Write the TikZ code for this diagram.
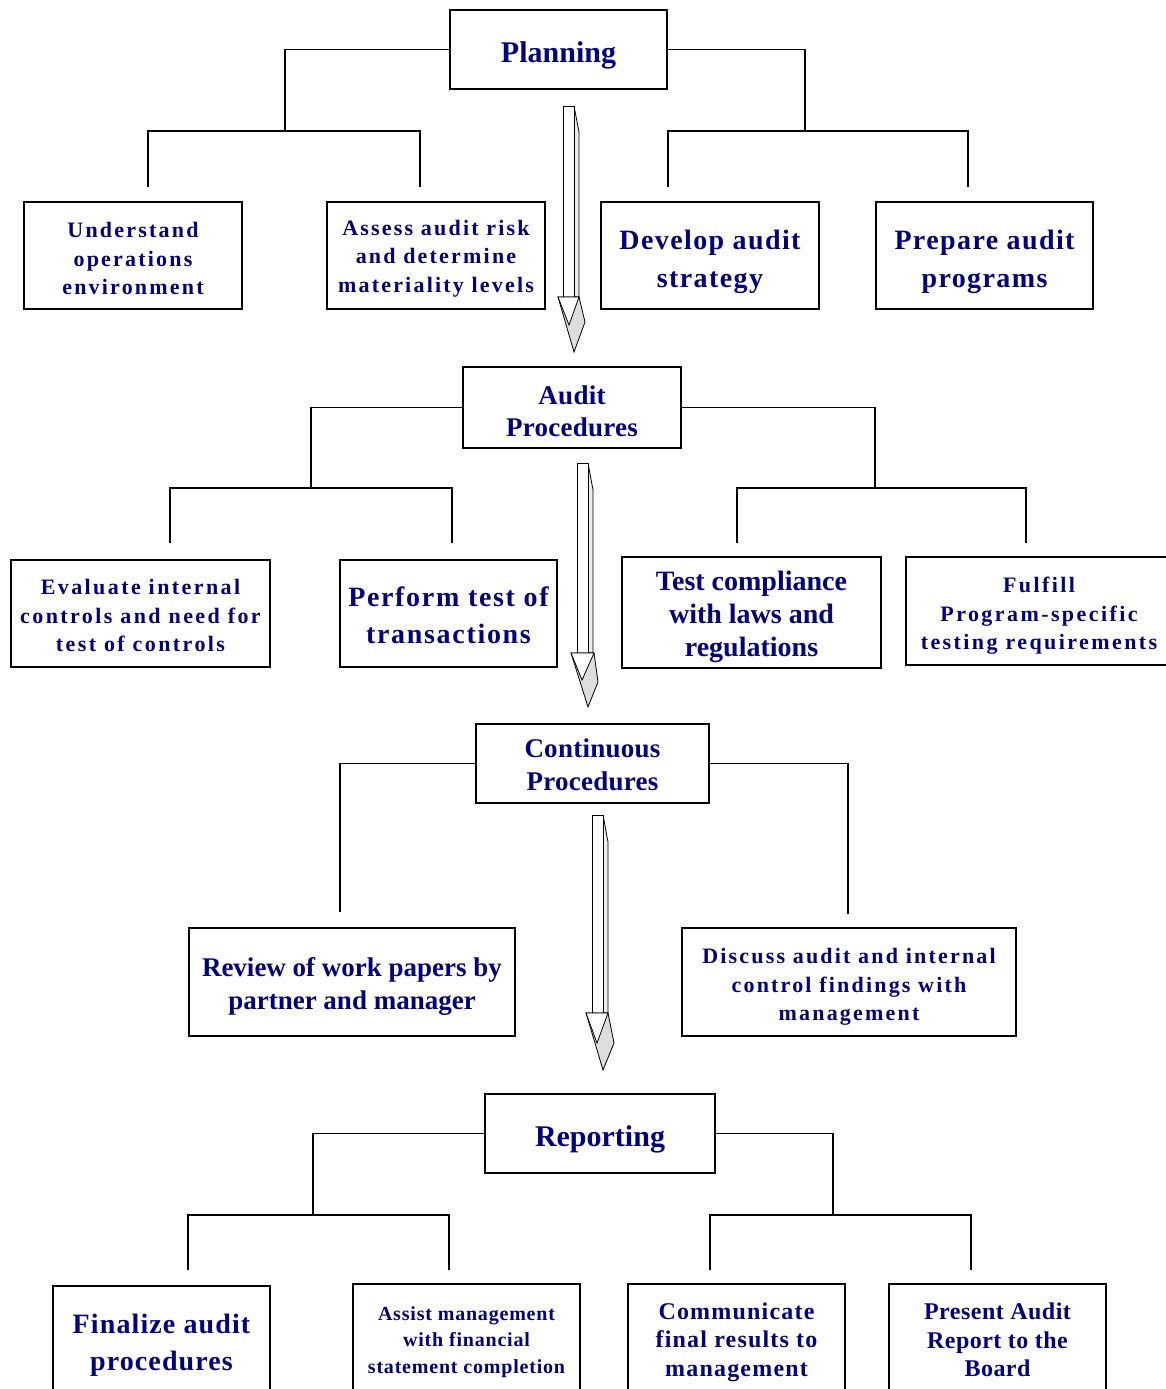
\documentclass[tikz,border=0pt]{standalone}
\usepackage{fontspec}
\setmainfont{Liberation Serif}
\definecolor{txtblue}{RGB}{0,0,128}
\definecolor{headgray}{RGB}{221,221,221}
\definecolor{sidegray}{RGB}{236,236,236}
\newcommand\ft[3]{\bfseries\fontsize{#1}{#2}\selectfont\addfontfeature{LetterSpace=#3}}
\begin{document}
\begin{tikzpicture}[x=1pt,y=-1pt,
  box/.style={draw=black,line width=1.8pt,fill=white,inner sep=0pt},
  lbl/.style={text=txtblue,align=center,inner sep=0pt},
  conn/.style={line width=1.8pt,line join=miter},
  face/.style={draw=black,line width=0.8pt,fill=white,line join=miter},
  side/.style={draw=black,line width=0.8pt,fill=sidegray,line join=miter},
  head/.style={draw=black,line width=0.8pt,fill=headgray,line join=miter}]
\useasboundingbox (0,0) rectangle (1165,1389);
\fill[white] (0,0) rectangle (1165,1389);

% ---------- Planning ----------
\node[box,minimum width=217pt,minimum height=79pt] (plan) at (558.5,49.5) {};
\node[lbl,font={\ft{30}{36}{0}}] (planT) at ([yshift=-6pt]plan.center) {Planning};
\node[box,minimum width=218pt,minimum height=107pt] (und) at (133,255.5) {};
\node[lbl,font={\ft{22}{28.5}{10}}] (undT) at ([yshift=-3pt]und.center) {Understand\\operations\\environment};
\node[box,minimum width=218pt,minimum height=107pt] (ass) at (436,255.5) {};
\node[lbl,font={\ft{22}{28.5}{10}}] (assT) at ([yshift=-3pt]ass.center) {Assess audit risk\\and determine\\materiality levels};
\node[box,minimum width=218pt,minimum height=107pt] (dev) at (710,255.5) {};
\node[lbl,font={\ft{28}{38}{5}}] (devT) at ([yshift=-6pt]dev.center) {Develop audit\\strategy};
\node[box,minimum width=217pt,minimum height=107pt] (prep) at (984.5,255.5) {};
\node[lbl,font={\ft{28}{38}{5}}] (prepT) at ([yshift=-6pt]prep.center) {Prepare audit\\programs};

\coordinate (j1) at (285,131); \coordinate (t1) at (148,187); \coordinate (t2) at (420,187);
\coordinate (j2) at (805,131); \coordinate (t3) at (668,187); \coordinate (t4) at (968,187);
\draw[conn] (plan.west) -| (j1);
\draw[conn] (t1) -- (t1 |- j1) -- (t2 |- j1) -- (t2);
\draw[conn] (plan.east) -| (j2);
\draw[conn] (t3) -- (t3 |- j2) -- (t4 |- j2) -- (t4);

% ---------- Audit Procedures ----------
\node[box,minimum width=218pt,minimum height=81pt] (aud) at (572,407.5) {};
\node[lbl,font={\ft{27}{32}{1}}] (audT) at ([yshift=-4pt]aud.center) {Audit\\Procedures};
\node[box,minimum width=259pt,minimum height=107pt] (eval) at (140.5,613.5) {};
\node[lbl,font={\ft{22}{28.5}{11}}] (evalT) at ([yshift=-2pt]eval.center) {Evaluate internal\\controls and need for\\test of controls};
\node[box,minimum width=217pt,minimum height=107pt] (perf) at (448.5,613.5) {};
\node[lbl,font={\ft{28}{37}{6}}] (perfT) at ([yshift=-2pt]perf.center) {Perform test of\\transactions};
\node[box,minimum width=259pt,minimum height=111pt] (test) at (751.5,612.5) {};
\node[lbl,font={\ft{28}{33}{0}}] (testT) at ([yshift=-4pt]test.center) {Test compliance\\with laws and\\regulations};
\node[box,minimum width=266pt,minimum height=108pt] (fulf) at (1039,611) {};
\node[lbl,font={\ft{22}{28.5}{11}}] (fulfT) at ([yshift=-5pt]fulf.center) {Fulfill\\Program-specific\\testing requirements};

\coordinate (j3) at (311,488); \coordinate (t5) at (170,543); \coordinate (t6) at (452,543);
\coordinate (j4) at (875,488); \coordinate (t7) at (737,543); \coordinate (t8) at (1026,543);
\draw[conn] (aud.west) -| (j3);
\draw[conn] (t5) -- (t5 |- j3) -- (t6 |- j3) -- (t6);
\draw[conn] (aud.east) -| (j4);
\draw[conn] (t7) -- (t7 |- j4) -- (t8 |- j4) -- (t8);

% ---------- Continuous Procedures ----------
\node[box,minimum width=233pt,minimum height=79pt] (cont) at (592.5,763.5) {};
\node[lbl,font={\ft{27}{33}{1}}] (contT) at ([yshift=-1pt]cont.center) {Continuous\\Procedures};
\node[box,minimum width=326pt,minimum height=108pt] (rev) at (352,982) {};
\node[lbl,font={\ft{27}{33}{0}}] (revT) at ([yshift=-4pt]rev.center) {Review of work papers by\\partner and manager};
\node[box,minimum width=334pt,minimum height=108pt] (disc) at (849,982) {};
\node[lbl,font={\ft{22}{28.5}{10}}] (discT) at ([yshift=-5pt]disc.center) {Discuss audit and internal\\control findings with\\management};

\coordinate (t9) at (340,912); \coordinate (t10) at (848,914);
\draw[conn] (cont.west) -| (t9);
\draw[conn] (cont.east) -| (t10);

% ---------- Reporting ----------
\node[box,minimum width=230pt,minimum height=79pt] (rep) at (600,1133.5) {};
\node[lbl,font={\ft{30}{36}{0}}] (repT) at ([yshift=-6pt]rep.center) {Reporting};
\node[box,minimum width=217pt,minimum height=114pt] (fin) at (161.5,1343) {};
\node[lbl,font={\ft{28}{37}{4}}] (finT) at ([yshift=-2pt]fin.center) {Finalize audit\\procedures};
\node[box,minimum width=227pt,minimum height=110pt] (assist) at (466.5,1339) {};
\node[lbl,font={\ft{20}{26.5}{4}}] (assistT) at ([yshift=-3pt]assist.center) {Assist management\\with financial\\statement completion};
\node[box,minimum width=217pt,minimum height=112pt] (comm) at (736.5,1340) {};
\node[lbl,font={\ft{24}{28.5}{5}}] (commT) at ([yshift=-2pt]comm.center) {Communicate\\final results to\\management};
\node[box,minimum width=217pt,minimum height=112pt] (pres) at (997.5,1340) {};
\node[lbl,font={\ft{24}{28.5}{2}}] (presT) at (pres.center) {Present Audit\\Report to the\\Board};

\coordinate (j5) at (313,1215); \coordinate (t11) at (188,1270); \coordinate (t12) at (449,1270);
\coordinate (j6) at (833,1215); \coordinate (t13) at (710,1270); \coordinate (t14) at (971,1270);
\draw[conn] (rep.west) -| (j5);
\draw[conn] (t11) -- (t11 |- j5) -- (t12 |- j5) -- (t12);
\draw[conn] (rep.east) -| (j6);
\draw[conn] (t13) -- (t13 |- j6) -- (t14 |- j6) -- (t14);

% ---------- block arrows ----------
% arrow 1
\draw[side] (574,106) -- (579,132) -- (579,297) -- (574,297) -- cycle;
\draw[face] (563,106) rectangle (574,297);
\draw[head] (558,297) -- (579,297) -- (585,322) -- (574,352) -- cycle;
\draw[face] (558,297) -- (579,297) -- (569,325) -- cycle;
% arrow 2
\draw[side] (588,463) -- (593,490) -- (593,653) -- (588,653) -- cycle;
\draw[face] (577,463) rectangle (588,653);
\draw[head] (571,653) -- (594,653) -- (598,682) -- (588,707) -- cycle;
\draw[face] (571,653) -- (594,653) -- (582,680) -- cycle;
% arrow 3
\draw[side] (603,815) -- (608,842) -- (608,1013) -- (603,1013) -- cycle;
\draw[face] (592,815) rectangle (603,1013);
\draw[head] (586,1013) -- (608,1013) -- (614,1043) -- (603,1070) -- cycle;
\draw[face] (586,1013) -- (608,1013) -- (597,1043) -- cycle;
\end{tikzpicture}
\end{document}
